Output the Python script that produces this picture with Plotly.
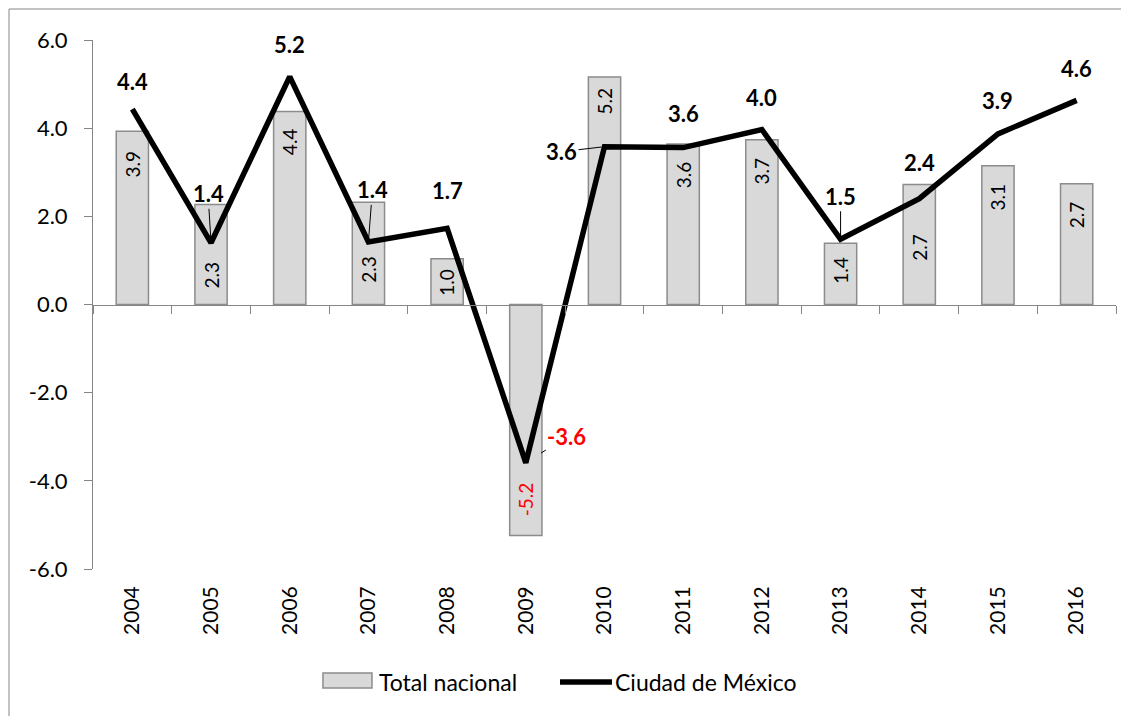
import plotly.graph_objects as go

years = ["2004", "2005", "2006", "2007", "2008", "2009", "2010",
         "2011", "2012", "2013", "2014", "2015", "2016"]
total_nacional = [3.93, 2.27, 4.38, 2.32, 1.04, -5.24, 5.16, 3.64, 3.74, 1.39, 2.72, 3.15, 2.74]
ciudad_mexico = [4.43, 1.40, 5.17, 1.42, 1.73, -3.59, 3.58, 3.56, 3.97, 1.48, 2.40, 3.87, 4.63]

y_ticks = [-6, -4, -2, 0, 2, 4, 6]
y_ticktext = [f"{v:.1f}" for v in y_ticks]

FONT = "Lato, Carlito, Calibri, sans-serif"
GREY = "#868686"
idx = list(range(len(years)))

# line-label placement (px offsets from the point, leader line?, standoff)
line_label_pos = [(0, -28, False, 0), (-3, -49, True, 5), (0, -32, False, 0),
                  (4, -52, True, 5), (0, -38, False, 0), (41, -26, True, 18),
                  (-43, 5, True, 3), (0, -34, False, 0), (0, -32, False, 0),
                  (0, -43, True, 4), (0, -36, False, 0), (0, -33, False, 0),
                  (0, -32, False, 0)]
# bar-label centre, px inward from the bar end (Excel moved a few by hand)
bar_label_inset = [33, 71, 30, 67, 24, 36, 24, 31, 31, 27, 63, 31, 31]

fig = go.Figure()
fig.add_trace(go.Bar(
    x=idx, y=total_nacional, name="Total nacional", width=0.41,
    marker=dict(color="#d9d9d9", line=dict(color="#8c8c8c", width=1.5)),
    showlegend=False, hoverinfo="y",
))
fig.add_trace(go.Scatter(
    x=idx, y=ciudad_mexico, name="Ciudad de México", mode="lines",
    line=dict(color="black", width=5.5), showlegend=False,
))
# dummy trace so xaxis2 (the zero-line axis with boundary ticks) is drawn
fig.add_trace(go.Scatter(x=[None], y=[None], xaxis="x2", showlegend=False, hoverinfo="skip"))

for i, v in enumerate(total_nacional):
    inset = bar_label_inset[i]
    fig.add_annotation(
        x=i, y=v, text=f"{v:.1f}", textangle=-90, showarrow=False,
        xanchor="center", yanchor="middle",
        yshift=-inset if v >= 0 else inset,
        font=dict(family=FONT, size=19, color="red" if v < 0 else "black"),
    )

for i, v in enumerate(ciudad_mexico):
    dx, dy, leader, stand = line_label_pos[i]
    color = "red" if v < 0 else "black"
    if leader:
        fig.add_annotation(
            x=i, y=v, text=f"<b>{v:.1f}</b>", ax=dx, ay=dy,
            showarrow=True, arrowhead=0, arrowwidth=1, arrowcolor="black",
            standoff=stand, font=dict(family=FONT, size=22, color=color),
        )
    else:
        fig.add_annotation(
            x=i, y=v, text=f"<b>{v:.1f}</b>", xshift=dx, yshift=-dy,
            showarrow=False, font=dict(family=FONT, size=22, color=color),
        )

# legend drawn by hand to get Excel's wide swatches
fig.add_shape(type="rect", xref="paper", yref="paper", x0=0.2248, x1=0.2727,
              y0=-0.225, y1=-0.1966, fillcolor="#d9d9d9",
              line=dict(color="#8c8c8c", width=1.5))
fig.add_annotation(xref="paper", yref="paper", x=0.2776, y=-0.2136, text="Total nacional",
                   showarrow=False, xanchor="left", yanchor="middle",
                   font=dict(family=FONT, size=23))
fig.add_shape(type="line", xref="paper", yref="paper", x0=0.4565, x1=0.5073,
              y0=-0.2136, y1=-0.2136, line=dict(color="black", width=5.5))
fig.add_annotation(xref="paper", yref="paper", x=0.5083, y=-0.2136, text="Ciudad de México",
                   showarrow=False, xanchor="left", yanchor="middle",
                   font=dict(family=FONT, size=23))

# chart frame
fig.add_shape(type="rect", xref="paper", yref="paper", x0=-0.0821, x1=1.2,
              y0=-0.6, y1=1.0586, line=dict(color=GREY, width=1))

fig.update_layout(
    width=1121, height=708,
    margin=dict(l=85, r=13, t=32, b=147),
    paper_bgcolor="white", plot_bgcolor="white",
    font=dict(family=FONT, size=20, color="black"),
    showlegend=False,
    xaxis=dict(range=[-0.5, 12.5], tickvals=idx, ticktext=years, tickangle=-90,
               showline=False, ticks="", showgrid=False, zeroline=False,
               ticklabelstandoff=12, tickfont=dict(family=FONT, size=21)),
    xaxis2=dict(range=[-0.5, 12.5], overlaying="x", anchor="free", position=0.5,
                side="bottom", tickvals=[i - 0.5 for i in range(len(years) + 1)],
                showticklabels=False, ticks="outside", ticklen=8, tickcolor=GREY,
                showline=True, linecolor=GREY, linewidth=1, showgrid=False,
                zeroline=False),
    yaxis=dict(range=[-6, 6], tickvals=y_ticks, ticktext=y_ticktext, showgrid=False,
               zeroline=False, showline=True, linecolor=GREY, linewidth=1,
               ticks="outside", ticklen=8, tickcolor=GREY, ticklabelstandoff=12,
               tickfont=dict(family=FONT, size=22)),
)

fig.write_html("out.html")
